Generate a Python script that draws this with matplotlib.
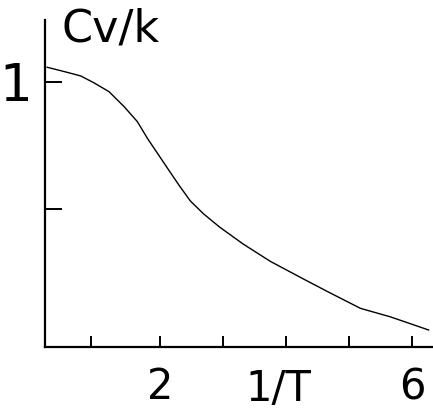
import numpy as np
import matplotlib.pyplot as plt

plt.rcParams['font.family'] = ['DejaVu Sans']

# curve
inv_T = [0.21, 0.48, 0.74, 0.95, 1.19, 1.43, 1.64, 1.80, 1.96, 2.12, 2.30,
         2.48, 2.69, 2.95, 3.32, 3.75, 4.28, 4.65, 5.18, 5.65, 6.26]
cv_k = [1.058, 1.041, 1.024, 0.997, 0.962, 0.903, 0.844, 0.778, 0.719, 0.660,
        0.594, 0.532, 0.481, 0.428, 0.362, 0.294, 0.224, 0.176, 0.109, 0.076,
        0.024]

x_ticks = [0.9, 2, 3, 4, 5, 6]
x_labels = ['', '2', '', '', '', '6']
y_ticks = [0.5, 1]
y_labels = ['', '1']

fig = plt.figure(figsize=(4.33, 4.11), dpi=100)
ax = fig.add_axes([45/433, 64/411, 388/433, 327/411])
ax.plot(inv_T, cv_k, color='black', lw=1.0)

ax.set_xlim(0.175, 6.33)
ax.set_ylim(-0.043, 1.244)
ax.spines['top'].set_visible(False)
ax.spines['right'].set_visible(False)
for s in ('left', 'bottom'):
    ax.spines[s].set_linewidth(1.6)

ax.set_xticks(x_ticks)
ax.set_xticklabels(x_labels, fontsize=30)
ax.set_yticks(y_ticks)
ax.set_yticklabels(y_labels, fontsize=37)
ax.tick_params(axis='x', direction='in', length=8, width=1.4, pad=14)
ax.tick_params(axis='y', direction='in', length=12, width=1.4, pad=9)

ax.text(3.87, -0.21, '1/T', fontsize=30, ha='center', va='center',
        transform=ax.transData, clip_on=False)
fig.text(62/433, 1 - 29/411, 'Cv/k', fontsize=32, ha='left', va='center')

plt.savefig('out.png', dpi=100)
